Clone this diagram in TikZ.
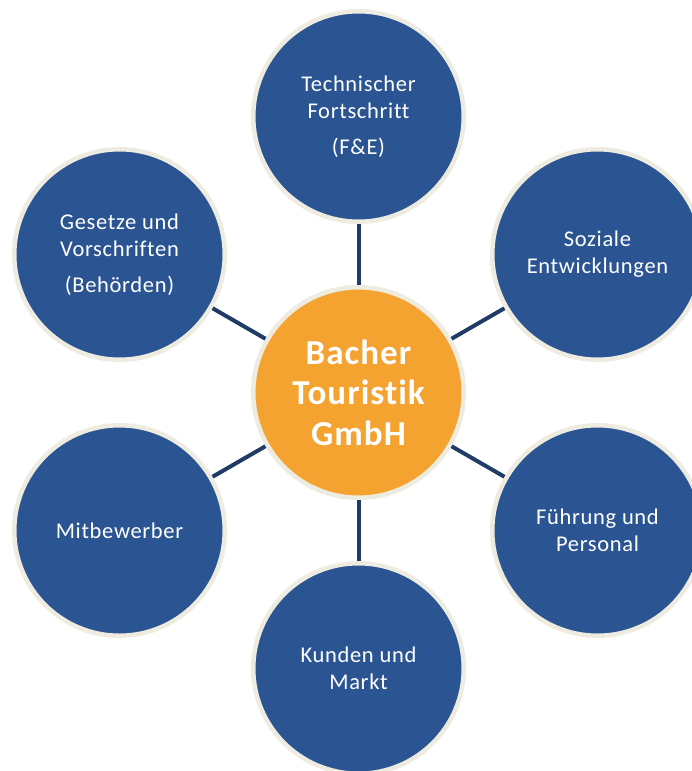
\documentclass[tikz,border=0pt]{standalone}
\usepackage{fontspec}
\setmainfont{Carlito}
\newfontfamily\spacedfont[LetterSpace=3,Ligatures=NoCommon]{Carlito}
\definecolor{hubblue}{HTML}{2B5592}
\definecolor{huborange}{HTML}{F4A331}
\definecolor{hubring}{HTML}{EEEBE1}
\definecolor{hubline}{HTML}{1F3B66}
\tikzset{
  outer/.style={circle, fill=hubblue, draw=hubring, line width=4.5pt, minimum size=210.5pt, inner sep=0pt,
    text=white, align=center, font=\spacedfont\fontsize{22.5}{27}\selectfont},
  hub/.style={circle, fill=huborange, draw=hubring, line width=4.5pt, minimum size=210.5pt, inner sep=0pt,
    text=white, align=center, font=\spacedfont\fontsize{35}{40.5}\selectfont\bfseries},
  link/.style={draw=hubline, line width=4pt}
}
\begin{document}
\begin{tikzpicture}[x=1pt,y=-1pt]
\useasboundingbox (0,0) rectangle (691,771);
\node[hub] (c) at (358.5,392.5) {Bacher\\Touristik\\GmbH};
\node[outer] (t) at (358.5,116.5) {Technischer\\Fortschritt\\[9pt](F\&E)};
\node[outer] (lt) at (119.5,254.5) {Gesetze und\\Vorschriften\\[9pt](Behörden)};
\node[outer] (rt) at (597.5,254.5) {Soziale\\Entwicklungen};
\node[outer] (lb) at (119.5,530.5) {Mitbewerber};
\node[outer] (rb) at (597.5,530.5) {Führung und\\Personal};
\node[outer] (b) at (358.5,668.5) {Kunden und\\Markt};
\foreach \n in {t,lt,rt,lb,rb,b} \draw[link] (c) -- (\n);
\end{tikzpicture}
\end{document}
